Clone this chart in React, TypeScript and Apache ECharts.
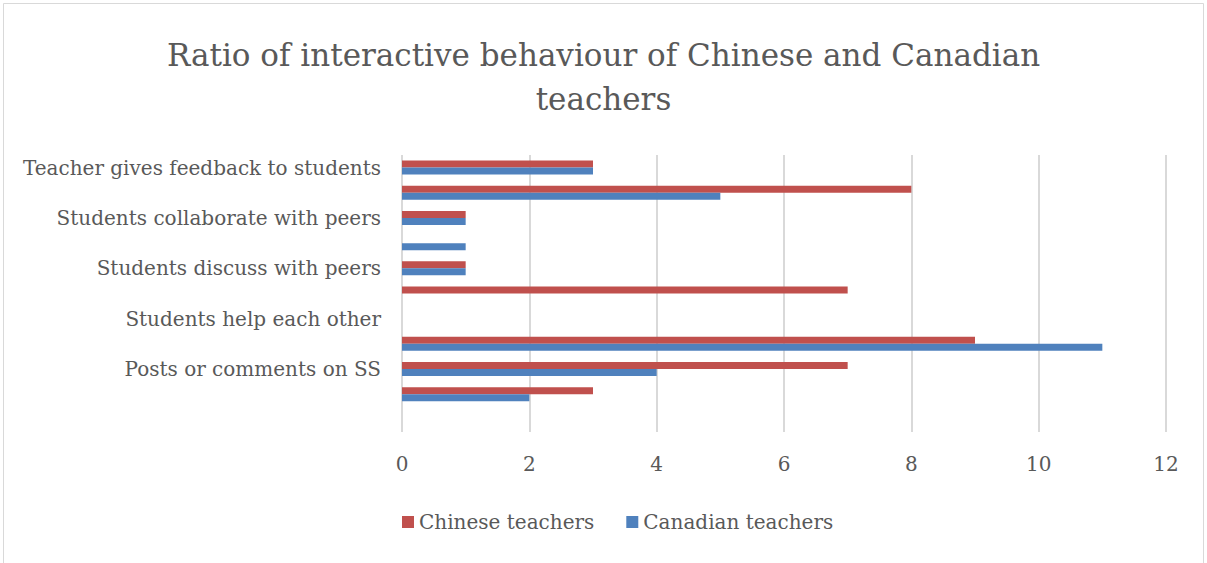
import React, { useEffect, useRef } from "react";
import * as echarts from "echarts";

const titleText = "Ratio of interactive behaviour of Chinese and Canadian\nteachers";
// bottom to top (category axis index 0 is the bottom)
const categories = [
  "",
  "",
  "Posts or comments on SS",
  "",
  "Students help each other",
  "",
  "Students discuss with peers",
  "",
  "Students collaborate with peers",
  "",
  "Teacher gives feedback to students",
];
const chineseTeachers = [0, 3, 7, 9, 0, 7, 1, 0, 1, 8, 3];
const canadianTeachers = [0, 2, 4, 11, 0, 0, 1, 1, 1, 5, 3];
const seriesNames = ["Chinese teachers", "Canadian teachers"];
const xTicks = { min: 0, max: 12, interval: 2 };

const FONT = "'DejaVu Serif', 'Liberation Serif', serif";
const GREY = "#595959";

export default function App() {
  const ref = useRef<HTMLDivElement>(null);
  useEffect(() => {
    document.body.style.margin = "0";
    const chart = echarts.init(ref.current!, undefined, { renderer: "svg" });
    chart.setOption({
      animation: false,
      backgroundColor: "#ffffff",
      title: {
        text: titleText,
        left: "center",
        top: 28,
        textStyle: { fontFamily: FONT, fontSize: 31, fontWeight: "normal", color: GREY, lineHeight: 44 },
      },
      graphic: [
        {
          type: "rect",
          shape: { x: 3.5, y: 3.5, width: 1200, height: 560 },
          style: { fill: "none", stroke: "#d9d9d9", lineWidth: 1 },
          silent: true,
        },
      ],
      legend: {
        data: seriesNames,
        left: 397,
        top: 507,
        icon: "rect",
        itemWidth: 12,
        itemHeight: 12,
        itemGap: 32,
        textStyle: { fontFamily: FONT, fontSize: 20, color: GREY },
      },
      grid: { left: 402, right: 41, top: 155, bottom: 131, containLabel: false },
      xAxis: {
        type: "value",
        min: xTicks.min,
        max: xTicks.max,
        interval: xTicks.interval,
        axisLine: { show: false },
        axisTick: { show: false },
        splitLine: { show: true, lineStyle: { color: "#d9d9d9", width: 2 } },
        axisLabel: { fontFamily: FONT, fontSize: 20, color: GREY, margin: 22 },
      },
      yAxis: {
        type: "category",
        data: categories,
        axisLine: { show: false },
        axisTick: { show: false },
        axisLabel: { interval: 0, fontFamily: FONT, fontSize: 20, color: GREY, margin: 21 },
      },
      series: [
        {
          name: seriesNames[0],
          type: "bar",
          data: chineseTeachers,
          barWidth: 7,
          barGap: "0%",
          itemStyle: { color: "#C0504D" },
        },
        {
          name: seriesNames[1],
          type: "bar",
          data: canadianTeachers,
          barWidth: 7,
          barGap: "0%",
          itemStyle: { color: "#4F81BD" },
        },
      ],
    });
    return () => chart.dispose();
  }, []);
  return <div ref={ref} style={{ position: "absolute", left: 0, top: 0, width: 1207, height: 563 }} />;
}
